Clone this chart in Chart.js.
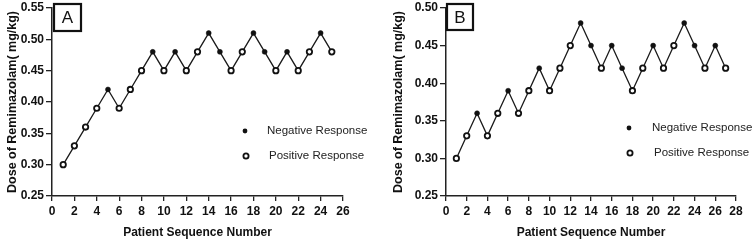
<!DOCTYPE html>
<html><head><meta charset="utf-8">
<script src="https://cdn.jsdelivr.net/npm/chart.js@4.4.1/dist/chart.umd.min.js"></script>
<style>
html,body{margin:0;padding:0;background:#fff;}
#wrap{display:flex;width:754px;height:240px;}
canvas{display:block;}
</style></head><body>
<div id="wrap"><canvas id="cA" width="377" height="240"></canvas><canvas id="cB" width="377" height="240"></canvas></div>
<script>
// ---- Panel A data ----
const patientsA = [1,2,3,4,5,6,7,8,9,10,11,12,13,14,15,16,17,18,19,20,21,22,23,24,25];
const doseA = [0.30,0.33,0.36,0.39,0.42,0.39,0.42,0.45,0.48,0.45,0.48,0.45,0.48,0.51,0.48,0.45,0.48,0.51,0.48,0.45,0.48,0.45,0.48,0.51,0.48];
// 1 = Negative Response (filled dot), 0 = Positive Response (open circle)
const respA = [0,0,0,0,1,0,0,0,1,0,1,0,0,1,1,0,0,1,1,0,1,0,0,1,0];
const xTicksA = [0,2,4,6,8,10,12,14,16,18,20,22,24,26];
const yTicksA = [0.25,0.30,0.35,0.40,0.45,0.50,0.55];

// ---- Panel B data ----
const patientsB = [1,2,3,4,5,6,7,8,9,10,11,12,13,14,15,16,17,18,19,20,21,22,23,24,25,26,27];
const doseB = [0.30,0.33,0.36,0.33,0.36,0.39,0.36,0.39,0.42,0.39,0.42,0.45,0.48,0.45,0.42,0.45,0.42,0.39,0.42,0.45,0.42,0.45,0.48,0.45,0.42,0.45,0.42];
const respB = [0,0,1,0,0,1,0,0,1,0,0,0,1,1,0,1,1,0,0,1,0,0,1,1,0,1,0];
const xTicksB = [0,2,4,6,8,10,12,14,16,18,20,22,24,26,28];
const yTicksB = [0.25,0.30,0.35,0.40,0.45,0.50];

const legendLabels = ['Negative Response','Positive Response'];
const xTitle = 'Patient Sequence Number';
const yTitle = 'Dose of Remimazolam( mg/kg)';

const FONT = '"Liberation Sans", Arial, Helvetica, sans-serif';
const INK = '#111';

const decor = {
  id: 'decor',
  afterDraw(chart, args, o) {
    const ctx = chart.ctx;
    ctx.save();
    // panel letter box
    ctx.fillStyle = '#fff';
    ctx.fillRect(o.box.x, o.box.y, o.box.w, o.box.h);
    ctx.lineWidth = 2.2;
    ctx.strokeStyle = INK;
    ctx.strokeRect(o.box.x, o.box.y, o.box.w, o.box.h);
    ctx.fillStyle = INK;
    ctx.font = '17px ' + FONT;
    ctx.textAlign = 'center';
    ctx.textBaseline = 'middle';
    ctx.fillText(o.letter, o.box.x + o.box.w / 2, o.box.y + o.box.h / 2 + 1);
    // legend
    ctx.font = '11.5px ' + FONT;
    ctx.textAlign = 'left';
    ctx.fillStyle = '#222';
    legendLabels.forEach((lab, i) => {
      const y = o.legend.y + i * o.legend.gap;
      ctx.beginPath();
      if (i === 0) {
        ctx.arc(o.legend.x, y, 2.4, 0, Math.PI * 2);
        ctx.fillStyle = INK; ctx.fill();
      } else {
        ctx.arc(o.legend.x + 1, y, 2.6, 0, Math.PI * 2);
        ctx.fillStyle = '#fff'; ctx.fill();
        ctx.lineWidth = 1.8; ctx.strokeStyle = INK; ctx.stroke();
      }
      ctx.fillStyle = '#222';
      ctx.fillText(lab, o.legend.tx + i * 2, y);
    });
    ctx.restore();
  }
};

function makeChart(id, patients, dose, resp, xTicks, yTicks, cfg) {
  return new Chart(document.getElementById(id), {
    type: 'line',
    data: {
      datasets: [{
        data: patients.map((p, i) => ({x: p, y: dose[i]})),
        borderColor: '#1a1a1a',
        borderWidth: 1.3,
        tension: 0,
        pointRadius: resp.map(r => r ? 2.5 : 2.7),
        pointBackgroundColor: resp.map(r => r ? INK : '#fff'),
        pointBorderColor: INK,
        pointBorderWidth: resp.map(r => r ? 0.5 : 1.8)
      }]
    },
    options: {
      responsive: false,
      animation: false,
      devicePixelRatio: 1,
      layout: {padding: cfg.padding},
      plugins: {legend: {display: false}, tooltip: {enabled: false}, decor: cfg.decor},
      scales: {
        x: {
          type: 'linear', min: xTicks[0], max: xTicks[xTicks.length - 1],
          afterBuildTicks: s => { s.ticks = xTicks.map(v => ({value: v})); },
          afterFit: s => { s.height = 44; },
          grid: {display: true, drawOnChartArea: false, drawTicks: true, tickLength: 5, color: '#222', lineWidth: 1.3},
          border: {display: true, color: '#222', width: 1.5},
          ticks: {color: INK, padding: 3, maxRotation: 0, autoSkip: false, font: {family: FONT, size: 12, weight: 'bold'}},
          title: {display: true, text: xTitle, color: INK, padding: {top: 0, bottom: 0}, font: {family: FONT, size: 12, weight: 'bold'}}
        },
        y: {
          type: 'linear', min: yTicks[0], max: yTicks[yTicks.length - 1],
          afterBuildTicks: s => { s.ticks = yTicks.map(v => ({value: v})); },
          afterFit: s => { s.width = cfg.yWidth; },
          grid: {display: true, drawOnChartArea: false, drawTicks: true, tickLength: 6, color: '#222', lineWidth: 1.3},
          border: {display: true, color: '#222', width: 1.5},
          ticks: {color: INK, padding: 2, callback: v => v.toFixed(2), font: {family: FONT, size: 12, weight: 'bold', lineHeight: 1}},
          title: {display: true, text: yTitle, color: INK, padding: {top: cfg.yTitlePad, bottom: 0}, font: {family: FONT, size: 12.5, weight: 'bold'}}
        }
      }
    },
    plugins: [decor]
  });
}

makeChart('cA', patientsA, doseA, respA, xTicksA, yTicksA, {
  padding: {top: 7, right: 34, left: 0, bottom: 0},
  yWidth: 52, yTitlePad: 5.5,
  decor: {letter: 'A', box: {x: 54, y: 4, w: 27, h: 27}, legend: {x: 245, y: 131, gap: 25, tx: 267}}
});
makeChart('cB', patientsB, doseB, respB, xTicksB, yTicksB, {
  padding: {top: 6, right: 18, left: 0, bottom: 0},
  yWidth: 69, yTitlePad: 14.5,
  decor: {letter: 'B', box: {x: 70, y: 4, w: 26, h: 26}, legend: {x: 252, y: 128, gap: 25, tx: 275}}
});
</script>
</body></html>
